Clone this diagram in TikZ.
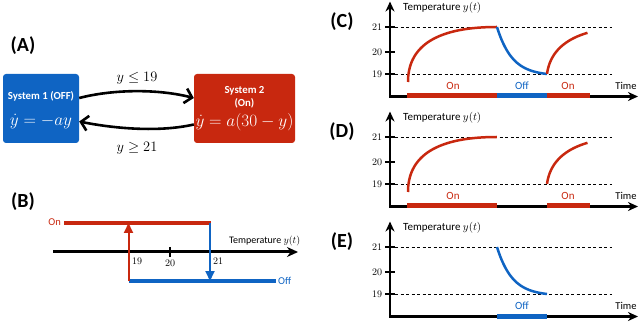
\documentclass[tikz,border=0pt]{standalone}
\usepackage{fontspec}
\newfontfamily\carl{Carlito}
\usetikzlibrary{arrows.meta}
\definecolor{myred}{RGB}{200,40,15}
\definecolor{myblue}{RGB}{15,100,195}
\tikzset{
  lbl/.style={font=\carl\bfseries\fontsize{20}{22}\selectfont, inner sep=0pt},
  statebox/.style={rounded corners=3pt, inner sep=0pt, minimum height=69pt},
  boxtxt/.style={text=white, font=\carl\bfseries\fontsize{10.8}{12}\selectfont, inner sep=0pt},
  boxmath/.style={text=white, font=\fontsize{17.28}{20}\selectfont, inner sep=0pt},
  condlbl/.style={font=\fontsize{14.4}{16}\selectfont, inner sep=0pt},
  tarr/.style={line width=2.6pt, -{Straight Barb[length=7pt,width=15pt]}},
  baxis/.style={line width=3pt, -{Stealth[length=11pt,width=10pt]}},
  btick/.style={line width=1.5pt},
  tlbl/.style={font=\fontsize{10}{12}\selectfont, inner sep=0pt},
  sl/.style={font=\carl\fontsize{10.5}{12}\selectfont, inner sep=0pt},
  ytl/.style={font=\carl\fontsize{11}{13}\selectfont, inner sep=0pt},
  onbar/.style={line width=4pt, myred},
  offbar/.style={line width=4pt, myblue},
  redarr/.style={line width=2pt, myred, -{Triangle[length=10pt,width=9pt]}},
  bluearr/.style={line width=2pt, myblue, -{Triangle[length=10pt,width=9pt]}},
  caxis/.style={line width=2.5pt, line join=miter, {Stealth[length=10pt,width=9pt]}-{Stealth[length=10pt,width=9pt]}},
  dline/.style={line width=0.9pt, dash pattern=on 3pt off 2.5pt},
  ctick/.style={line width=1.4pt},
  redc/.style={line width=2.5pt, myred},
  bluec/.style={line width=2.5pt, myblue},
  redbar/.style={line width=5pt, myred},
  bluebar/.style={line width=5pt, myblue},
}
\newcommand\tempaxes[1]{%
  \node[tlbl] (l21#1) at (377,27) {21};
  \node[tlbl] (l20#1) at (377,52) {20};
  \node[tlbl] (l19#1) at (377,74) {19};
  \draw[ctick] (385,27) -- (395,27);
  \draw[ctick] (385,52) -- (395,52);
  \draw[ctick] (385,74) -- (395,74);
  \draw[dline] (395,27) -- (612,27);
  \draw[dline] (395,74) -- (612,74);
  \coordinate (yt#1) at (390,1.5);
  \coordinate (o#1) at (390,96.5);
  \coordinate (xt#1) at (638,96.5);
  \draw[caxis] (yt#1) -- (o#1) -- (xt#1);
  \node[ytl, anchor=west] (yl#1) at (403,8) {Temperature $y(t)$};
  \node[sl] (tm#1) at (626,86) {Time};
}
\begin{document}
\begin{tikzpicture}[x=1pt,y=-1pt]
\useasboundingbox (0,0) rectangle (640,323);

% ---------------- (A)
\node[lbl] (la) at (23,46) {(A)};
\node[statebox, fill=myblue, minimum width=76pt] (s1) at (41,108.5) {};
\node[boxtxt] (s1t) at (41,96) {System 1 (OFF)};
\node[boxmath] (s1m) at (41,121.5) {$\dot y = -ay$};
\node[statebox, fill=myred, minimum width=101pt] (s2) at (244.5,108.5) {};
\node[boxtxt] (s2t) at (244.5,91) {System 2};
\node[boxtxt] (s2o) at (244.5,103) {(On)};
\node[boxmath] (s2m) at (244.5,122.5) {$\dot y = a(30-y)$};
\draw[tarr] ([yshift=10.5pt]s1.east) .. controls +(35pt,9pt) and +(-35pt,9pt) .. ([yshift=10.5pt]s2.west);
\draw[tarr] ([yshift=-16pt]s2.west) .. controls +(-35pt,-8pt) and +(35pt,-7pt) .. ([yshift=-13pt]s1.east);
\node[condlbl] (c1) at (137,78) {$y\le 19$};
\node[condlbl] (c2) at (137,148) {$y\ge 21$};

% ---------------- (B)
\node[lbl] (lb) at (23,202) {(B)};
\coordinate (axL) at (53,252);
\coordinate (axR) at (298,252);
\draw[baxis] (axL) -- (axR);
\draw[btick] (128.5,247) -- (128.5,257);
\draw[btick] (170,247) -- (170,257);
\draw[btick] (210,247) -- (210,257);
\node[tlbl] (b19) at (137,261.5) {19};
\node[tlbl] (b20) at (170,263) {20};
\node[tlbl] (b21) at (218,261.5) {21};
\node[sl, font=\carl\fontsize{10}{12}\selectfont, anchor=west] (btemp) at (229,241) {Temperature $y(t)$};
\node[sl, text=myred, anchor=east] (bon) at (61,222.5) {On};
\node[sl, text=myblue, anchor=west] (boff) at (278,281) {Off};
\coordinate (onL) at (64,223);
\coordinate (onR) at (211,223);
\coordinate (offL) at (128.5,281);
\coordinate (offR) at (276,281);
\draw[onbar] (onL) -- (onR);
\draw[offbar] (offL) -- (offR);
\draw[redarr] (offL) -- (128.5,223);
\draw[bluearr] (210,223) -- (210,281);

% ---------------- (C)
\node[lbl] (lc) at (342,22) {(C)};
\tempaxes{c}
\draw[redc] plot[domain=0:1, samples=80, variable=\s] ({408+89*\s*\s},{82-55*(2*\s-\s*\s)});
\draw[bluec] plot[domain=0:1, samples=60, variable=\u] ({497+50*\u},{27+47*(1-exp(-3.3*\u))/0.963});
\draw[redc] plot[domain=0.077:0.675, samples=60, variable=\s] ({546.5+90*\s*\s},{82-55*(2*\s-\s*\s)});
\draw[redbar] (407,96) -- (497,96);
\draw[bluebar] (497,96) -- (547,96);
\draw[redbar] (547,96) -- (590,96);
\node[sl, font=\carl\fontsize{11}{13}\selectfont, text=myred] (con1) at (453,86) {On};
\node[sl, font=\carl\fontsize{11}{13}\selectfont, text=myblue] (coff) at (522,86) {Off};
\node[sl, font=\carl\fontsize{11}{13}\selectfont, text=myred] (con2) at (568,86) {On};

% ---------------- (D)
\node[lbl] (ld) at (342,132) {(D)};
\begin{scope}[shift={(0,110)}]
\tempaxes{d}
\draw[redc] plot[domain=0:1, samples=80, variable=\s] ({408+89*\s*\s},{82-55*(2*\s-\s*\s)});
\draw[redc] plot[domain=0.077:0.675, samples=60, variable=\s] ({546.5+90*\s*\s},{82-55*(2*\s-\s*\s)});
\draw[redbar] (407,96) -- (497,96);
\draw[redbar] (547,96) -- (590,96);
\node[sl, font=\carl\fontsize{11}{13}\selectfont, text=myred] (don1) at (453,86) {On};
\node[sl, font=\carl\fontsize{11}{13}\selectfont, text=myred] (don2) at (568,86) {On};
\end{scope}

% ---------------- (E)
\node[lbl] (le) at (342,242) {(E)};
\begin{scope}[shift={(0,220)}]
\tempaxes{e}
\draw[bluec] plot[domain=0:1, samples=60, variable=\u] ({497+50*\u},{27+47*(1-exp(-3.3*\u))/0.963});
\draw[bluebar] (497,96) -- (547,96);
\node[sl, font=\carl\fontsize{11}{13}\selectfont, text=myblue] (eoff) at (522,86) {Off};
\end{scope}
\end{tikzpicture}
\end{document}
